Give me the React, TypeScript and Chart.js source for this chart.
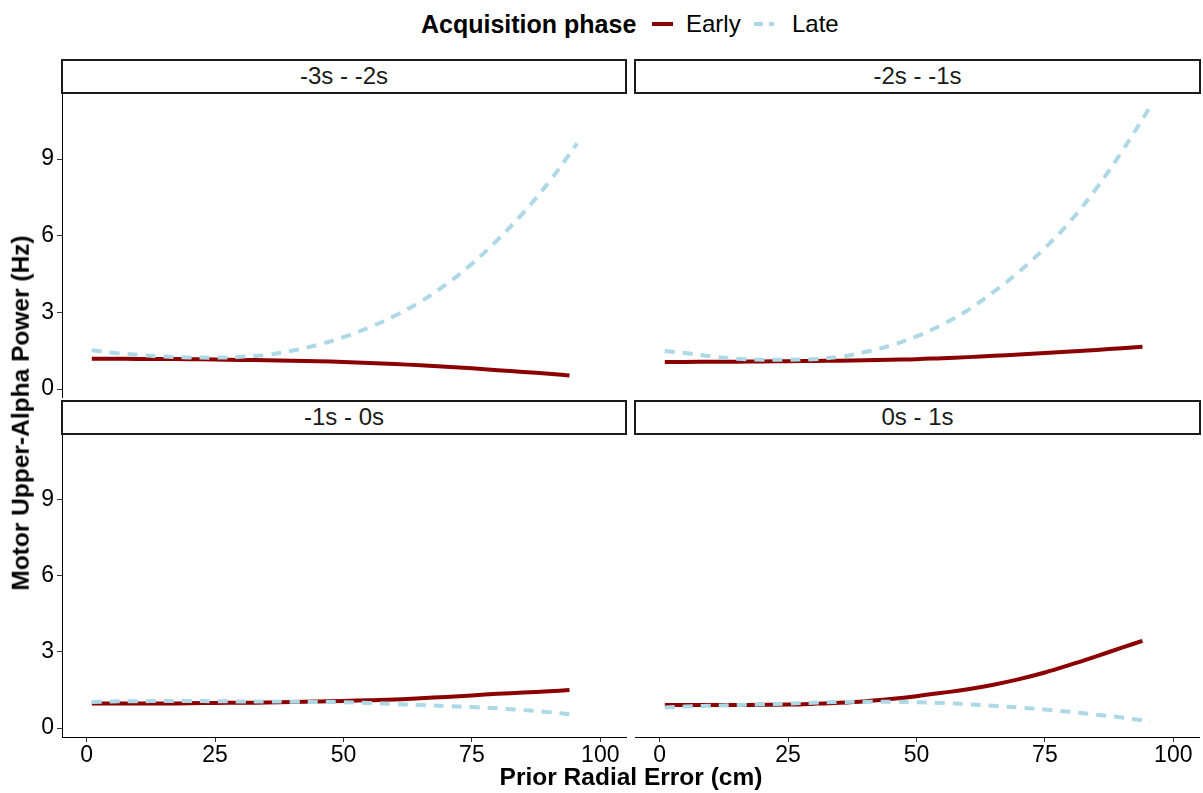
import React, { useEffect, useRef } from "react";
import { Chart, registerables } from "chart.js";

Chart.register(...registerables);

const FONT = "'Liberation Sans', Arial, Helvetica, sans-serif";

// Axis ticks
const xTicks = [0, 25, 50, 75, 100];
const yTicks = [0, 3, 6, 9];

// Facet labels
const panelLabels = ["-3s - -2s", "-2s - -1s", "-1s - 0s", "0s - 1s"];

// Prior radial error (cm) sample positions of the fitted curves
const xEarly = [1, 5, 10, 15, 20, 25, 30, 35, 40, 45, 50, 55, 60, 65, 70, 75, 80, 85, 90, 94];
const xLate = [1, 5, 10, 15, 20, 25, 30, 35, 40, 45, 50, 55, 60, 65, 70, 75, 80, 85, 90, 95.5];

// Panel -3s - -2s
const earlyP1 = [1.19, 1.19, 1.18, 1.18, 1.17, 1.16, 1.14, 1.13, 1.11, 1.09, 1.06, 1.02, 0.98, 0.93, 0.87, 0.81, 0.74, 0.67, 0.6, 0.53];
const lateP1 = [1.52, 1.42, 1.34, 1.27, 1.24, 1.23, 1.26, 1.34, 1.5, 1.73, 2.03, 2.41, 2.87, 3.42, 4.1, 4.9, 5.84, 6.9, 8.1, 9.62];
// Panel -2s - -1s
const earlyP2 = [1.06, 1.06, 1.07, 1.07, 1.08, 1.09, 1.1, 1.11, 1.13, 1.15, 1.17, 1.21, 1.25, 1.3, 1.35, 1.41, 1.47, 1.53, 1.6, 1.66];
const lateP2 = [1.49, 1.41, 1.28, 1.19, 1.15, 1.15, 1.17, 1.26, 1.45, 1.71, 2.06, 2.52, 3.09, 3.8, 4.6, 5.52, 6.58, 7.85, 9.3, 11.05];
// Panel -1s - 0s
const earlyP3 = [0.97, 0.97, 0.97, 0.97, 0.98, 0.99, 1.0, 1.01, 1.03, 1.05, 1.07, 1.1, 1.13, 1.18, 1.23, 1.29, 1.35, 1.4, 1.45, 1.5];
const lateP3 = [1.03, 1.05, 1.06, 1.07, 1.07, 1.06, 1.05, 1.05, 1.04, 1.03, 1.02, 0.99, 0.95, 0.91, 0.87, 0.83, 0.78, 0.71, 0.63, 0.52];
// Panel 0s - 1s
const earlyP4 = [0.91, 0.91, 0.91, 0.91, 0.92, 0.93, 0.96, 1.0, 1.06, 1.15, 1.26, 1.39, 1.53, 1.71, 1.93, 2.19, 2.5, 2.83, 3.17, 3.44];
const lateP4 = [0.81, 0.85, 0.88, 0.91, 0.94, 0.97, 1.0, 1.03, 1.04, 1.04, 1.02, 0.99, 0.94, 0.88, 0.81, 0.73, 0.64, 0.53, 0.42, 0.26];

const EARLY_COLOR = "#8B0000";
const LATE_COLOR = "#ADD8E6";

type PanelProps = {
  left: number;
  top: number;
  width: number;
  height: number;
  showX: boolean;
  showY: boolean;
  early: number[];
  late: number[];
};

function zeroPad(s: any) {
  s.paddingTop = 0;
  s.paddingBottom = 0;
  s.paddingLeft = 0;
  s.paddingRight = 0;
}

function Panel({ left, top, width, height, showX, showY, early, late }: PanelProps) {
  const ref = useRef<HTMLCanvasElement | null>(null);
  useEffect(() => {
    if (!ref.current) return;
    const chart = new Chart(ref.current, {
      type: "line",
      data: {
        datasets: [
          {
            label: "Late",
            data: xLate.map((x, i) => ({ x, y: late[i] })),
            borderColor: LATE_COLOR,
            borderWidth: 4,
            borderDash: [10, 8],
            pointRadius: 0,
            fill: false,
            tension: 0.4,
          },
          {
            label: "Early",
            data: xEarly.map((x, i) => ({ x, y: early[i] })),
            borderColor: EARLY_COLOR,
            borderWidth: 4,
            pointRadius: 0,
            fill: false,
            tension: 0.4,
          },
        ],
      },
      options: {
        responsive: false,
        animation: false,
        devicePixelRatio: 1,
        events: [],
        layout: { padding: 0 },
        plugins: { legend: { display: false }, tooltip: { enabled: false }, title: { display: false } },
        scales: {
          x: {
            type: "linear",
            min: -4.8,
            max: 105.2,
            display: showX,
            afterBuildTicks: (s: any) => {
              s.ticks = xTicks.map((v) => ({ value: v }));
            },
            afterFit: (s: any) => {
              s.height = showX ? 36 : 0;
              zeroPad(s);
            },
            grid: { drawOnChartArea: false, drawTicks: true, tickLength: 5, color: "#333333", lineWidth: 1 },
            border: { display: true, color: "#000000", width: 1 },
            ticks: { font: { family: FONT, size: 23 }, color: "#000000", padding: 0, maxRotation: 0, autoSkip: false },
          },
          y: {
            type: "linear",
            min: -0.35,
            max: 11.55,
            display: showY,
            afterBuildTicks: (s: any) => {
              s.ticks = yTicks.map((v) => ({ value: v }));
            },
            afterFit: (s: any) => {
              s.width = showY ? 62 : 0;
              zeroPad(s);
            },
            grid: { drawOnChartArea: false, drawTicks: true, tickLength: 5, color: "#333333", lineWidth: 1 },
            border: { display: true, color: "#000000", width: 1 },
            ticks: { font: { family: FONT, size: 23 }, color: "#000000", padding: 3, autoSkip: false },
          },
        },
      },
    } as any);
    return () => chart.destroy();
  }, [showX, showY, early, late]);
  return (
    <canvas
      ref={ref}
      width={width}
      height={height}
      style={{ position: "absolute", left, top, width, height }}
    />
  );
}

function Strip({ left, top, width, label }: { left: number; top: number; width: number; label: string }) {
  return (
    <div
      style={{
        position: "absolute",
        left,
        top,
        width,
        height: 35,
        boxSizing: "border-box",
        border: "2px solid #1a1a1a",
        background: "#ffffff",
        display: "flex",
        alignItems: "center",
        justifyContent: "center",
        fontFamily: FONT,
        fontSize: 24,
        color: "#1a1a1a",
        lineHeight: 1,
        paddingBottom: 2,
      }}
    >
      {label}
    </div>
  );
}

export default function App() {
  const text = (extra: React.CSSProperties): React.CSSProperties => ({
    position: "absolute",
    fontFamily: FONT,
    color: "#000000",
    whiteSpace: "nowrap",
    lineHeight: 1,
    ...extra,
  });
  return (
    <div style={{ position: "fixed", left: 0, top: 0, width: 1203, height: 793, background: "#ffffff", overflow: "hidden" }}>
      {/* Legend */}
      <div style={text({ left: 421, top: 24, transform: "translateY(-50%)", fontSize: 25, fontWeight: "bold" })}>
        Acquisition phase
      </div>
      <div style={{ position: "absolute", left: 652, top: 22, width: 21, height: 4, background: EARLY_COLOR }} />
      <div style={text({ left: 686, top: 24, transform: "translateY(-50%)", fontSize: 24 })}>Early</div>
      <div style={{ position: "absolute", left: 754, top: 22, width: 9, height: 4, background: LATE_COLOR }} />
      <div style={{ position: "absolute", left: 769, top: 22, width: 5, height: 4, background: LATE_COLOR }} />
      <div style={text({ left: 792, top: 24, transform: "translateY(-50%)", fontSize: 24 })}>Late</div>

      {/* Strips */}
      <Strip left={61} top={59} width={566} label={panelLabels[0]} />
      <Strip left={634} top={59} width={567} label={panelLabels[1]} />
      <Strip left={61} top={400} width={566} label={panelLabels[2]} />
      <Strip left={634} top={400} width={567} label={panelLabels[3]} />

      {/* Panels */}
      <Panel left={0} top={94} width={627} height={304} showY={true} showX={false} early={earlyP1} late={lateP1} />
      <Panel left={635} top={94} width={565} height={304} showY={false} showX={false} early={earlyP2} late={lateP2} />
      <Panel left={0} top={435} width={627} height={338} showY={true} showX={true} early={earlyP3} late={lateP3} />
      <Panel left={635} top={435} width={565} height={338} showY={false} showX={true} early={earlyP4} late={lateP4} />

      {/* Axis titles */}
      <div
        style={text({
          left: 21,
          top: 413,
          transform: "translate(-50%, -50%) rotate(-90deg)",
          fontSize: 24.5,
          fontWeight: "bold",
        })}
      >
        Motor Upper-Alpha Power (Hz)
      </div>
      <div style={text({ left: 631, top: 777, transform: "translate(-50%, -50%)", fontSize: 24.5, fontWeight: "bold" })}>
        Prior Radial Error (cm)
      </div>
    </div>
  );
}
